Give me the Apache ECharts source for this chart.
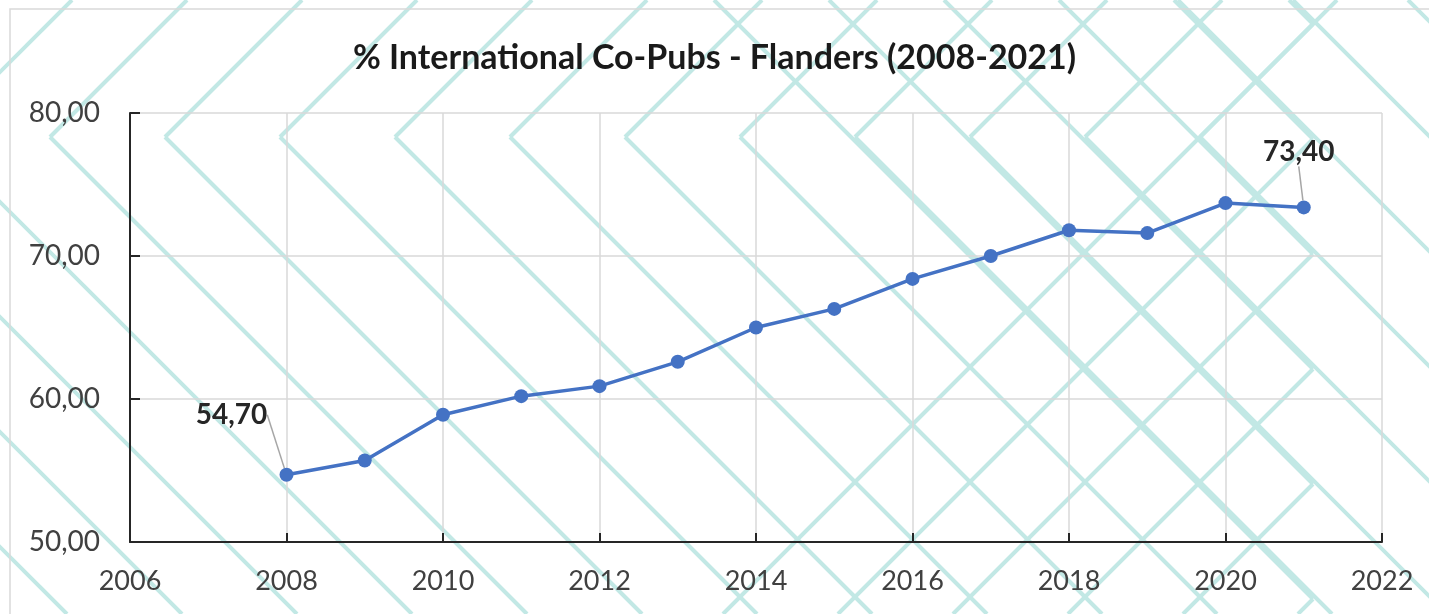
<!DOCTYPE html>
<html>
<head>
<meta charset="utf-8">
<title>% International Co-Pubs - Flanders</title>
<script src="https://cdn.jsdelivr.net/npm/echarts@6/dist/echarts.min.js"></script>
<style>
  html, body { margin: 0; padding: 0; background: #fff; }
  #chart { width: 1429px; height: 614px; }
</style>
</head>
<body>
<div id="chart"></div>
<script>
// data
const years = [2008, 2009, 2010, 2011, 2012, 2013, 2014, 2015, 2016, 2017, 2018, 2019, 2020, 2021]
const coPubs = [54.7, 55.7, 58.9, 60.2, 60.9, 62.6, 65.0, 66.3, 68.4, 70.0, 71.8, 71.6, 73.7, 73.4]
const labelledYears = [2008, 2021]
const titleText = '% International Co-Pubs - Flanders (2008-2021)'

const fontFamily = 'Lato, "Open Sans", sans-serif'
const fmt = v => v.toFixed(2).replace('.', ',')

// decorative chevron pattern in the background
const teal = '#c2e8e5'
function seg(x1, y1, x2, y2) {
  return {
    type: 'line',
    silent: true,
    z: -10,
    shape: { x1: x1, y1: y1, x2: x2, y2: y2 },
    style: { stroke: teal, lineWidth: 4 }
  }
}
const deco = []
for (let k = -5; k <= 10; k++) {
  const ax = 50 + 115 * k, ay = 137
  deco.push(seg(ax, ay, ax + 137, 0))
  deco.push(seg(ax, ay, ax + 477, 614))
}
for (let j = 0; j <= 5; j++) {
  const vx = 1313, vy = 24 + 115 * j
  deco.push(seg(vx, vy, vx - vy, 0))
  deco.push(seg(vx, vy, vx - (614 - vy), 614))
}
for (let k = 11; k <= 13; k++) {
  const c = -87 + 115 * k
  deco.push(seg(c, 0, c + 614, 614))
}
// outer chart border
deco.push({
  type: 'rect',
  silent: true,
  z: -9,
  shape: { x: 10, y: 9, width: 1600, height: 800 },
  style: { fill: 'none', stroke: '#d9d9d9', lineWidth: 1.5 }
})

const chart = echarts.init(document.getElementById('chart'), null, { renderer: 'canvas' })

const seriesData = years.map((y, i) => {
  const item = { value: [y, coPubs[i]] }
  if (labelledYears.indexOf(y) !== -1) {
    item.label = { show: true }
  }
  return item
})

const labelShift = {
  0: [-55, -60],
  13: [-5, -55]
}

chart.setOption({
  backgroundColor: '#fff',
  animation: false,
  graphic: deco,
  title: {
    text: titleText,
    left: 'center',
    top: 34,
    textStyle: {
      fontFamily: fontFamily,
      fontSize: 34,
      fontWeight: 'bold',
      color: '#1a1a1a',
      lineHeight: 38
    }
  },
  grid: {
    left: 130,
    right: 47,
    top: 113,
    bottom: 72
  },
  xAxis: {
    type: 'value',
    min: 2006,
    max: 2022,
    interval: 2,
    axisLine: { show: true, lineStyle: { color: '#262626', width: 2 } },
    axisTick: { show: true, inside: true, length: 9, lineStyle: { color: '#262626', width: 2 } },
    axisLabel: {
      fontFamily: fontFamily,
      fontSize: 27,
      color: '#404040',
      margin: 26,
      formatter: v => String(v)
    },
    splitLine: { show: true, lineStyle: { color: '#d9d9d9', width: 1.5 } }
  },
  yAxis: {
    type: 'value',
    min: 50,
    max: 80,
    interval: 10,
    axisLine: { show: true, lineStyle: { color: '#262626', width: 2 } },
    axisTick: { show: true, inside: true, length: 10, lineStyle: { color: '#262626', width: 2 } },
    axisLabel: {
      fontFamily: fontFamily,
      fontSize: 28,
      color: '#404040',
      margin: 30,
      formatter: v => fmt(v)
    },
    splitLine: { show: true, lineStyle: { color: '#d9d9d9', width: 1.5 } }
  },
  series: [
    {
      type: 'line',
      data: seriesData,
      symbol: 'circle',
      symbolSize: 14,
      lineStyle: { color: '#4472C4', width: 3.5 },
      itemStyle: { color: '#4472C4' },
      label: {
        show: false,
        position: 'top',
        fontFamily: fontFamily,
        fontSize: 28,
        fontWeight: 'bold',
        color: '#262626',
        formatter: p => fmt(p.value[1])
      },
      labelLine: {
        show: true,
        lineStyle: { color: '#a6a6a6', width: 1.5 }
      },
      labelLayout: function (params) {
        const s = labelShift[params.dataIndex]
        if (!s) return {}
        const cx = params.rect.x + params.rect.width / 2
        const cy = params.rect.y + params.rect.height / 2
        return {
          x: cx + s[0],
          y: cy + s[1],
          align: 'center',
          verticalAlign: 'middle'
        }
      }
    }
  ]
})
</script>
</body>
</html>
